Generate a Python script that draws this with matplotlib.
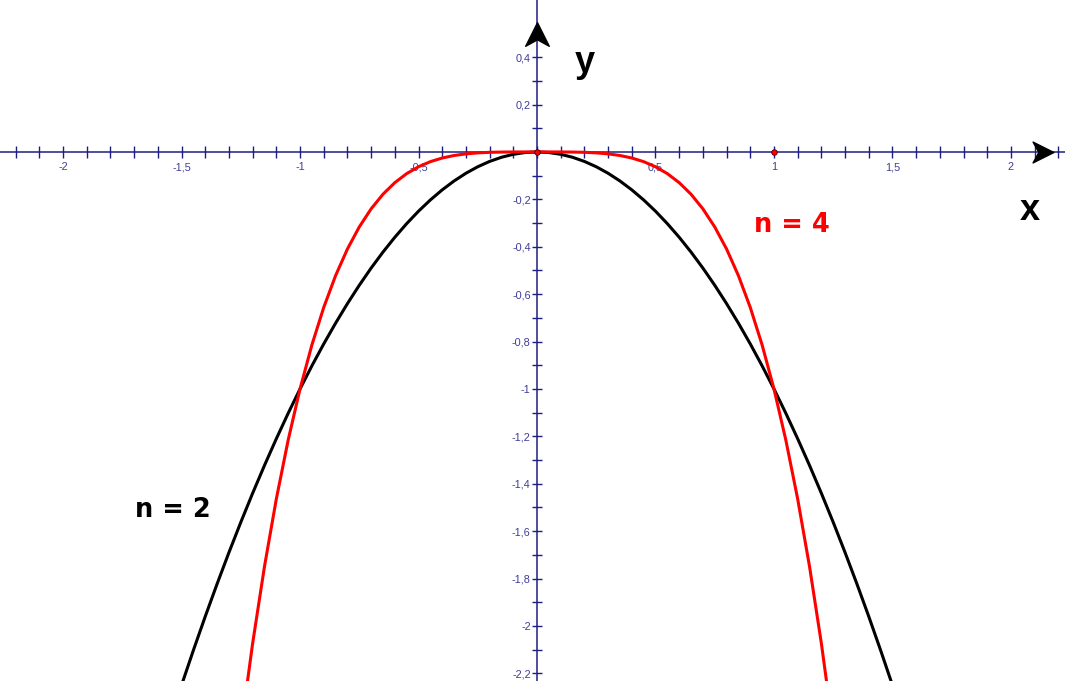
import numpy as np
import matplotlib.pyplot as plt
from matplotlib.path import Path
from matplotlib.ticker import FixedLocator, FuncFormatter

plt.rcParams['font.family'] = ['Liberation Sans', 'DejaVu Sans']

# n = 2 curve (black)
x2 = [-1.50, -1.45, -1.40, -1.35, -1.30, -1.25, -1.20, -1.15, -1.10, -1.05,
      -1.00, -0.95, -0.90, -0.85, -0.80, -0.75, -0.70, -0.65, -0.60, -0.55,
      -0.50, -0.45, -0.40, -0.35, -0.30, -0.25, -0.20, -0.15, -0.10, -0.05,
      0.00, 0.05, 0.10, 0.15, 0.20, 0.25, 0.30, 0.35, 0.40, 0.45,
      0.50, 0.55, 0.60, 0.65, 0.70, 0.75, 0.80, 0.85, 0.90, 0.95,
      1.00, 1.05, 1.10, 1.15, 1.20, 1.25, 1.30, 1.35, 1.40, 1.45, 1.50]
y2 = [-2.2500, -2.1025, -1.9600, -1.8225, -1.6900, -1.5625, -1.4400, -1.3225, -1.2100, -1.1025,
      -1.0000, -0.9025, -0.8100, -0.7225, -0.6400, -0.5625, -0.4900, -0.4225, -0.3600, -0.3025,
      -0.2500, -0.2025, -0.1600, -0.1225, -0.0900, -0.0625, -0.0400, -0.0225, -0.0100, -0.0025,
      0.0000, -0.0025, -0.0100, -0.0225, -0.0400, -0.0625, -0.0900, -0.1225, -0.1600, -0.2025,
      -0.2500, -0.3025, -0.3600, -0.4225, -0.4900, -0.5625, -0.6400, -0.7225, -0.8100, -0.9025,
      -1.0000, -1.1025, -1.2100, -1.3225, -1.4400, -1.5625, -1.6900, -1.8225, -1.9600, -2.1025, -2.2500]

# n = 4 curve (red)
x4 = [-1.25, -1.20, -1.15, -1.10, -1.05, -1.00, -0.95, -0.90, -0.85, -0.80,
      -0.75, -0.70, -0.65, -0.60, -0.55, -0.50, -0.45, -0.40, -0.35, -0.30,
      -0.25, -0.20, -0.15, -0.10, -0.05, 0.00, 0.05, 0.10, 0.15, 0.20,
      0.25, 0.30, 0.35, 0.40, 0.45, 0.50, 0.55, 0.60, 0.65, 0.70,
      0.75, 0.80, 0.85, 0.90, 0.95, 1.00, 1.05, 1.10, 1.15, 1.20, 1.25]
y4 = [-2.4414, -2.0736, -1.7490, -1.4641, -1.2155, -1.0000, -0.8145, -0.6561, -0.5220, -0.4096,
      -0.3164, -0.2401, -0.1785, -0.1296, -0.0915, -0.0625, -0.0410, -0.0256, -0.0150, -0.0081,
      -0.0039, -0.0016, -0.0005, -0.0001, 0.0000, 0.0000, 0.0000, -0.0001, -0.0005, -0.0016,
      -0.0039, -0.0081, -0.0150, -0.0256, -0.0410, -0.0625, -0.0915, -0.1296, -0.1785, -0.2401,
      -0.3164, -0.4096, -0.5220, -0.6561, -0.8145, -1.0000, -1.2155, -1.4641, -1.7490, -2.0736, -2.4414]

pts_x = [0, 1]
pts_y = [0, 0]

x_labels = [-2, -1.5, -1, -0.5, 0.5, 1, 1.5, 2]
y_labels = [0.4, 0.2, -0.2, -0.4, -0.6, -0.8, -1, -1.2, -1.4, -1.6, -1.8, -2, -2.2]

navy = '#1e1e82'
lblc = '#3c3c98'

fig = plt.figure(figsize=(10.65, 6.81), dpi=100)
ax = fig.add_axes([0, 0, 1, 1])
ax.set_xlim(-2.266, 2.228)
ax.set_ylim(-2.232, 0.641)

for s in ['top', 'right']:
    ax.spines[s].set_visible(False)
for s in ['left', 'bottom']:
    ax.spines[s].set_position('zero')
    ax.spines[s].set_color(navy)
    ax.spines[s].set_linewidth(1.1)

ax.xaxis.set_major_locator(FixedLocator(x_labels))
ax.xaxis.set_minor_locator(FixedLocator(np.round(np.arange(-2.2, 2.25, 0.1), 2)))
ax.yaxis.set_major_locator(FixedLocator(y_labels))
ax.yaxis.set_minor_locator(FixedLocator(np.round(np.arange(-2.2, 0.55, 0.1), 2)))
fmt = FuncFormatter(lambda v, p: ('%g' % v).replace('.', ','))
ax.xaxis.set_major_formatter(fmt)
ax.yaxis.set_major_formatter(fmt)
ax.tick_params(axis='x', which='both', direction='inout', length=8.6, width=1.0,
               color=navy, labelcolor=lblc, labelsize=7.8, pad=3)
ax.tick_params(axis='y', which='both', direction='inout', length=7, width=1.0,
               color=navy, labelcolor=lblc, labelsize=7.8, pad=1)

ax.plot(x2, y2, color='black', lw=2.2, zorder=3)
ax.plot(x4, y4, color='#ff0000', lw=2.2, zorder=4)
ax.plot(pts_x, pts_y, 'o', ms=4, mfc='#ff0000', mec='#400000', mew=0.6, zorder=5)

# arrow heads
arr_r = Path([(1, 0), (-1, 1), (-0.45, 0), (-1, -1), (1, 0)],
             [Path.MOVETO, Path.LINETO, Path.LINETO, Path.LINETO, Path.CLOSEPOLY])
arr_u = Path([(0, 1), (1, -1), (0, -0.45), (-1, -1), (0, 1)],
             [Path.MOVETO, Path.LINETO, Path.LINETO, Path.LINETO, Path.CLOSEPOLY])
ax.plot([2.135], [0], marker=arr_r, ms=15, color='black', zorder=6, clip_on=False)
ax.plot([0], [0.498], marker=arr_u, ms=17, color='black', zorder=6, clip_on=False)

ax.text(0.203, 0.376, 'y', fontsize=26, fontweight='bold', ha='center', va='center')
ax.text(2.08, -0.245, 'x', fontsize=26, fontweight='bold', ha='center', va='center')
ax.text(-1.536, -1.511, 'n = 2', fontsize=18.5, fontweight='bold', family='DejaVu Sans',
        ha='center', va='center')
ax.text(1.076, -0.308, 'n = 4', fontsize=18.5, fontweight='bold', family='DejaVu Sans',
        color='#ff0000', ha='center', va='center')

fig.savefig('out.png', dpi=100)
